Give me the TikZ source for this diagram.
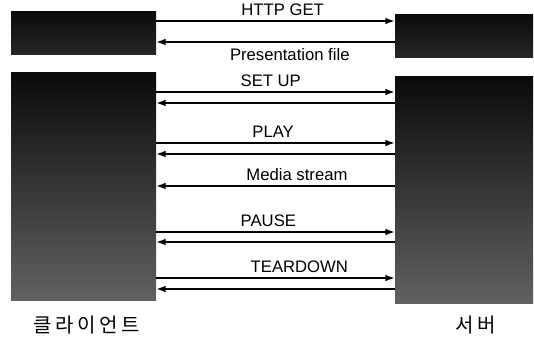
\documentclass[tikz,border=0pt]{standalone}
\usepackage{fontspec}
\setmainfont{Liberation Sans}
\newfontfamily\kofont[LetterSpace=18]{Noto Sans CJK KR}
\usetikzlibrary{arrows.meta,fit}

\tikzset{
	box/.style = {inner sep=0pt, top color=black!96, bottom color=black!85},
	tallbox/.style = {box, top color=black!96, bottom color=black!62},
	msg/.style = {line width=1.1pt, -{Latex[length=7pt,width=5pt]}},
	lbl/.style = {anchor=base, inner sep=0pt, yshift=3.8pt, font=\fontsize{12.5}{14}\selectfont},
	side/.style = {font=\kofont\fontsize{15}{17}\selectfont}
}

\begin{document}
\begin{tikzpicture}[x=0.75pt, y=-0.75pt]
	\useasboundingbox (0,0) rectangle (534,339);

	\node [box, fit={(11,11) (156,54)}] (webc) {};
	\node [box, fit={(395,14) (533,57)}] (webs) {};
	\node [tallbox, fit={(11,72) (156,300)}] (client) {};
	\node [tallbox, fit={(395,76) (533,303)}] (server) {};

	% heights of the messages
	\coordinate (get) at (0,21);
	\coordinate (pres) at (0,42);
	\coordinate (setup) at (0,92);
	\coordinate (setupr) at (0,103);
	\coordinate (play) at (0,143);
	\coordinate (playr) at (0,154);
	\coordinate (media) at (0,186);
	\coordinate (pause) at (0,232);
	\coordinate (pauser) at (0,242);
	\coordinate (tear) at (0,278);
	\coordinate (tearr) at (0,289);

	\draw [msg] (webc.east |- get) -- node [lbl, pos=0.53] (lget) {HTTP GET} (webs.west |- get);
	\draw [msg] (webs.west |- pres) -- node [lbl, pos=0.44, yshift=-18pt] (lpres) {Presentation file} (webc.east |- pres);

	\draw [msg] (client.east |- setup) -- node [lbl, pos=0.48] (lsetup) {SET UP} (server.west |- setup);
	\draw [msg] (server.west |- setupr) -- (client.east |- setupr);

	\draw [msg] (client.east |- play) -- node [lbl, pos=0.49] (lplay) {PLAY} (server.west |- play);
	\draw [msg] (server.west |- playr) -- (client.east |- playr);

	\draw [msg] (server.west |- media) -- node [lbl, pos=0.41] (lmedia) {Media stream} (client.east |- media);

	\draw [msg] (client.east |- pause) -- node [lbl, pos=0.47] (lpause) {PAUSE} (server.west |- pause);
	\draw [msg] (server.west |- pauser) -- (client.east |- pauser);

	\draw [msg] (client.east |- tear) -- node [lbl, pos=0.60] (ltear) {TEARDOWN} (server.west |- tear);
	\draw [msg] (server.west |- tearr) -- (client.east |- tearr);

	\node [side] (cname) at (87,325) {클라이언트};
	\node [side] (sname) at (476,325) {서버};
\end{tikzpicture}
\end{document}
